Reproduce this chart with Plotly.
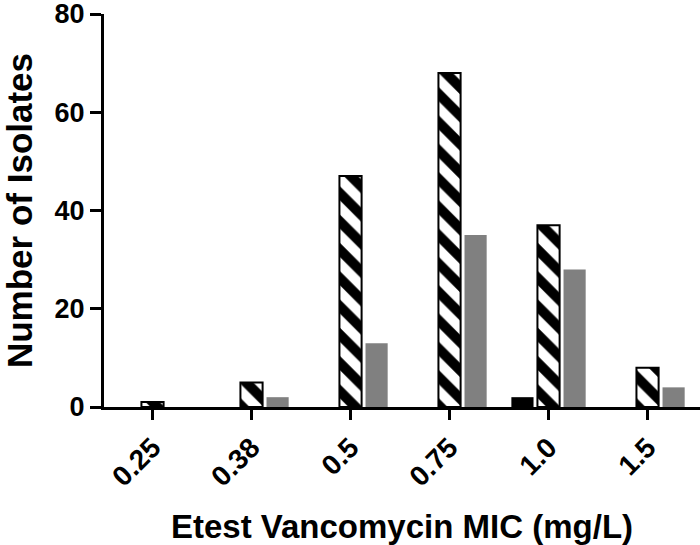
import plotly.graph_objects as go

categories = ["0.25", "0.38", "0.5", "0.75", "1.0", "1.5"]
black_vals = [0, 0, 0, 0, 2, 0]
hatched_vals = [1, 5, 47, 68, 37, 8]
gray_vals = [0, 2, 13, 35, 28, 4]
y_ticks = [0, 20, 40, 60, 80]

FONT = "Liberation Sans"

fig = go.Figure()
fig.add_trace(go.Bar(x=categories, y=black_vals, name="A",
                     marker=dict(color="black", line=dict(width=0))))
fig.add_trace(go.Bar(x=categories, y=hatched_vals, name="B",
                     marker=dict(color="white",
                                 line=dict(color="black", width=2),
                                 pattern=dict(shape="\\", fgcolor="black", bgcolor="white",
                                              fgopacity=1, size=20, solidity=0.5))))
fig.add_trace(go.Bar(x=categories, y=gray_vals, name="C",
                     marker=dict(color="#808080", line=dict(width=0))))

fig.update_layout(
    width=700, height=545,
    margin=dict(l=104, r=0, t=14, b=138),
    paper_bgcolor="white", plot_bgcolor="white",
    barmode="group", bargap=0.21, bargroupgap=0.15,
    showlegend=False,
    font=dict(family=FONT, color="black"),
)
fig.update_xaxes(
    type="category", range=[-0.49, 5.53], automargin=False,
    showline=True, linecolor="black", linewidth=3,
    ticks="outside", ticklen=10, tickwidth=3, tickcolor="black",
    tickangle=-45, tickfont=dict(family=FONT, size=28, weight="bold"),
    ticklabeloverflow="allow",
    showgrid=False, zeroline=False,
    title=dict(text="<b>Etest Vancomycin MIC (mg/L)</b>", font=dict(family=FONT, size=33), standoff=28),
)
fig.update_yaxes(
    range=[0, 80], tickvals=y_ticks, automargin=False,
    showline=True, linecolor="black", linewidth=3,
    ticks="outside", ticklen=11, tickwidth=3, tickcolor="black",
    tickfont=dict(family=FONT, size=27, weight="bold"),
    ticklabeloverflow="allow",
    showgrid=False, zeroline=False,
    title=dict(text="<b>Number of Isolates</b>", font=dict(family=FONT, size=35)),
)

fig.write_html("out.html", config={"displayModeBar": False},
               post_script="document.body.style.margin='0';")
